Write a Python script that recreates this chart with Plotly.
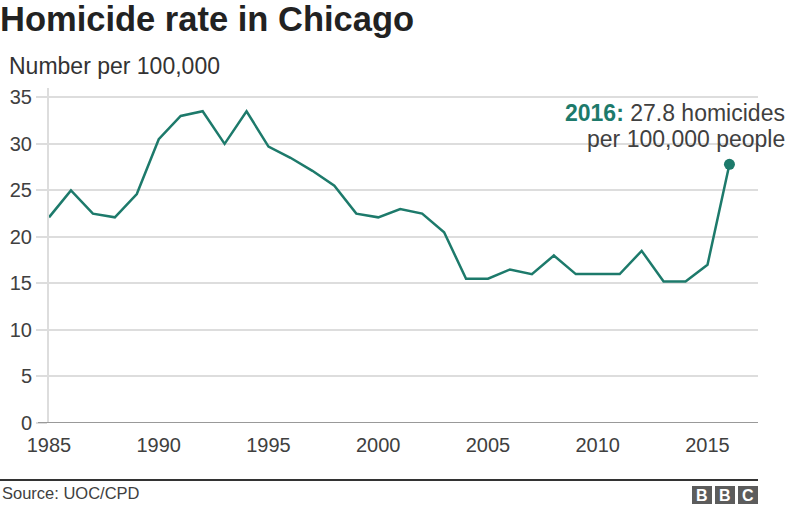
import plotly.graph_objects as go

years = list(range(1985, 2017))
rates = [22.1, 25.0, 22.5, 22.1, 24.6, 30.5, 33.0, 33.5, 30.0, 33.5,
         29.7, 28.5, 27.1, 25.5, 22.5, 22.1, 23.0, 22.5, 20.5, 15.5,
         15.5, 16.5, 16.0, 18.0, 16.0, 16.0, 16.0, 18.5, 15.2, 15.2,
         17.0, 27.8]
x_ticks = [1985, 1990, 1995, 2000, 2005, 2010, 2015]
y_ticks = [0, 5, 10, 15, 20, 25, 30, 35]

TEAL = "#1d7a6b"
FONT = "Liberation Sans, Arial, sans-serif"

W, H = 800, 510
L, R, T, B = 49, 758, 88, 423


def px(x):
    return (x - L) / (R - L)


def py(y):
    return (B - y) / (B - T)


fig = go.Figure()
fig.add_trace(go.Scatter(
    x=years, y=rates, mode="lines",
    line=dict(color=TEAL, width=2.5),
    hoverinfo="skip", showlegend=False,
))
fig.add_trace(go.Scatter(
    x=[years[-1]], y=[rates[-1]], mode="markers",
    marker=dict(color=TEAL, size=11),
    hoverinfo="skip", showlegend=False,
))

shapes = [
    dict(type="line", xref="paper", yref="paper", x0=px(0), x1=px(758),
         y0=py(480), y1=py(480), line=dict(color="#333333", width=2)),
]
annotations = [
    dict(text="Number per 100,000", xref="paper", yref="paper",
         x=px(7), y=py(66), xanchor="left", yanchor="middle", showarrow=False,
         font=dict(family=FONT, size=23, color="#333333")),
    dict(text="<b style='color:%s'>2016:</b> 27.8 homicides" % TEAL,
         xref="paper", yref="paper", x=px(787), y=py(113),
         xanchor="right", yanchor="middle", showarrow=False,
         font=dict(family=FONT, size=23, color="#404040")),
    dict(text="per 100,000 people",
         xref="paper", yref="paper", x=px(787), y=py(139),
         xanchor="right", yanchor="middle", showarrow=False,
         font=dict(family=FONT, size=23, color="#404040")),
    dict(text="Source: UOC/CPD", xref="paper", yref="paper",
         x=px(0), y=py(493), xanchor="left", yanchor="middle", showarrow=False,
         font=dict(family=FONT, size=16.5, color="#404040")),
]
for i, letter in enumerate("BBC"):
    x0 = 692 + i * 23
    shapes.append(dict(type="rect", xref="paper", yref="paper",
                       x0=px(x0), x1=px(x0 + 20), y0=py(504), y1=py(486),
                       fillcolor="#5c5c5c", line=dict(width=0)))
    annotations.append(dict(text="<b>%s</b>" % letter, xref="paper", yref="paper",
                            x=px(x0 + 10), y=py(495), xanchor="center",
                            yanchor="middle", showarrow=False,
                            font=dict(family=FONT, size=16, color="white")))

fig.update_layout(
    width=W, height=H,
    margin=dict(l=L, r=W - R, t=T, b=H - B, pad=0),
    paper_bgcolor="white", plot_bgcolor="white",
    title=dict(text="<b>Homicide rate in Chicago</b>", x=0.0, xref="container",
               xanchor="left", y=1 - 19 / H, yanchor="middle",
               font=dict(family=FONT, size=34.5, color="#222222")),
    xaxis=dict(range=[1985, 1985 + (R - L) / 21.95], tickvals=x_ticks,
               showgrid=False, zeroline=False, showline=False,
               ticks="", ticklabelstandoff=8,
               tickfont=dict(family=FONT, size=20, color="#404040")),
    yaxis=dict(range=[0, 36], tickvals=y_ticks, showgrid=True,
               gridcolor="#dddddd", gridwidth=2, zeroline=False,
               showline=True, linecolor="#dddddd", linewidth=2,
               ticks="outside", ticklen=11, tickcolor="#dddddd", tickwidth=2,
               automargin=False,
               tickfont=dict(family=FONT, size=20, color="#404040")),
    shapes=shapes + [dict(type="line", xref="paper", yref="y", x0=px(38), x1=1,
                          y0=0, y1=0, line=dict(color="#999999", width=2))],
    annotations=annotations,
)

fig.write_html("out.html",
               config={"displayModeBar": False, "staticPlot": True},
               post_script="document.body.style.margin='0';"
                           "document.body.style.overflow='hidden';")
